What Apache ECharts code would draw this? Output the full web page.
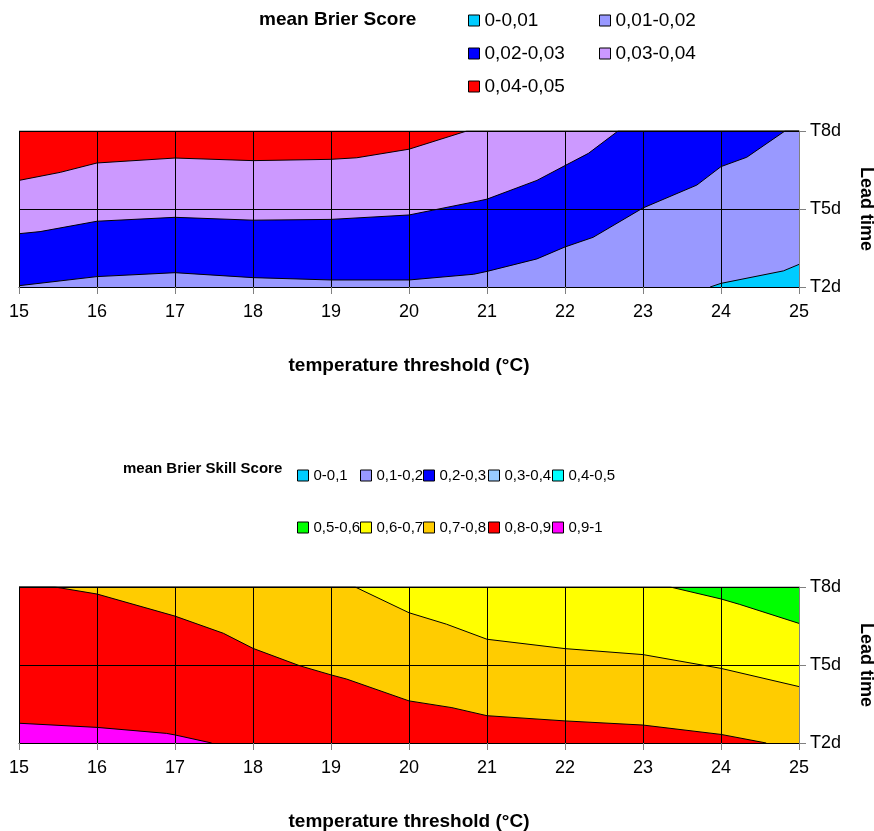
<!DOCTYPE html>
<html>
<head>
<meta charset="utf-8">
<script src="https://cdn.jsdelivr.net/npm/echarts@6/dist/echarts.min.js"></script>
<style>
  html, body { margin: 0; padding: 0; background: #fff; }
  #chart { width: 874px; height: 831px; }
</style>
</head>
<body>
<div id="chart"></div>
<script>

// 坐标轴
//-------
var tempMin = 15;
var tempMax = 25;
var leadDays = [2, 5, 8];
var leadLabels = ['T2d', 'T5d', 'T8d'];

// mean Brier Score
//-----------------
var bsClasses = ['0-0,01', '0,01-0,02', '0,02-0,03', '0,03-0,04', '0,04-0,05'];
var bsColors = ['#00ccff', '#9999ff', '#0000ff', '#cc99ff', '#ff0000'];

// upper edge of each class, [temperature, lead day]
var bsTop = [[15, 8], [25, 8]];
var bs004 = [[15, 6.10], [15.53, 6.41], [16, 6.77], [17, 6.96], [18, 6.86], [19, 6.91],
  [19.33, 6.97], [20, 7.30], [20.74, 8], [25, 8]];
var bs003 = [[15, 4.05], [15.27, 4.13], [16, 4.53], [17, 4.68], [18, 4.57], [19, 4.60],
  [20, 4.77], [20.91, 5.32], [21, 5.38], [21.64, 6.10], [22, 6.67], [22.30, 7.14],
  [22.68, 8], [25, 8]];
var bs002 = [[15, 2.05], [16, 2.40], [17, 2.55], [18, 2.36], [19, 2.27], [20, 2.27],
  [20.83, 2.49], [21, 2.60], [21.64, 3.08], [22, 3.54], [22.36, 3.91], [23, 5.04],
  [23.69, 5.92], [24, 6.63], [24.33, 6.99], [24.82, 8], [25, 8]];
var bs001 = [[23.86, 2], [24, 2.14], [24.8, 2.62], [25, 2.87]];

// mean Brier Skill Score
//-----------------------
var bssClasses = ['0-0,1', '0,1-0,2', '0,2-0,3', '0,3-0,4', '0,4-0,5',
  '0,5-0,6', '0,6-0,7', '0,7-0,8', '0,8-0,9', '0,9-1'];
var bssColors = ['#00ccff', '#9999ff', '#0000ff', '#99ccff', '#00ffff',
  '#00ff00', '#ffff00', '#ffcc00', '#ff0000', '#ff00ff'];

var bssTop = [[15, 8], [25, 8]];
var bss06 = [[15, 8], [23.35, 8], [24, 7.54], [24.24, 7.33], [25, 6.60]];
var bss07 = [[15, 8], [19.31, 8], [20, 7.01], [20.48, 6.57], [21, 5.99], [22, 5.63],
  [23, 5.40], [24, 4.87], [25, 4.17]];
var bss08 = [[15, 8], [15.46, 8], [16, 7.73], [17, 6.88], [17.62, 6.22], [18, 5.64],
  [18.6, 4.97], [19, 4.62], [19.2, 4.46], [20, 3.62], [20.55, 3.36], [21, 3.05],
  [22, 2.85], [23, 2.69], [24, 2.33], [24.58, 2]];
var bss09 = [[15, 2.76], [16, 2.60], [16.89, 2.37], [17, 2.31], [17.47, 2]];

var font = '"Liberation Sans", Arial, sans-serif';

// 填充区域：边界线以下整块上色
function band(name, data, color, idx) {
  return {
    name: name,
    type: 'line',
    xAxisIndex: idx,
    yAxisIndex: idx,
    data: data,
    symbol: 'none',
    silent: true,
    lineStyle: { color: '#000', width: 1 },
    itemStyle: { color: color },
    areaStyle: { color: color, opacity: 1, origin: 'start' }
  };
}

function legendItem(name, color, left, top, size) {
  return {
    data: [{ name: name, itemStyle: { color: color, borderColor: '#000', borderWidth: 1 } }],
    left: left,
    top: top,
    padding: 0,
    icon: 'rect',
    itemWidth: 11,
    itemHeight: 11,
    selectedMode: false,
    textStyle: { fontSize: size, color: '#000', fontFamily: font }
  };
}

function xAxisFor(idx) {
  return {
    gridIndex: idx,
    type: 'value',
    min: tempMin,
    max: tempMax,
    interval: 1,
    z: 5,
    axisLine: { onZero: false, lineStyle: { color: '#000' } },
    axisTick: { length: 7, lineStyle: { color: '#808080' } },
    axisLabel: { fontSize: 18, color: '#000', margin: 16, fontFamily: font },
    splitLine: { show: true, lineStyle: { color: '#000', width: 1 } },
    name: 'temperature threshold (°C)',
    nameLocation: 'middle',
    nameGap: 69,
    nameTextStyle: { fontSize: 19, fontWeight: 'bold', color: '#000', fontFamily: font }
  };
}

function yAxisFor(idx) {
  return {
    gridIndex: idx,
    type: 'value',
    position: 'right',
    min: 2,
    max: 8,
    interval: 3,
    z: 5,
    axisLine: { show: true, lineStyle: { color: '#808080' } },
    axisTick: { show: true, length: 7, lineStyle: { color: '#808080' } },
    axisLabel: {
      fontSize: 18, color: '#000', margin: 11, fontFamily: font,
      formatter: function(v) { return leadLabels[leadDays.indexOf(v)]; }
    },
    splitLine: { show: true, lineStyle: { color: '#000', width: 1 } },
    name: 'Lead time',
    nameLocation: 'middle',
    nameRotate: -90,
    nameGap: 58,
    nameTextStyle: { fontSize: 18, fontWeight: 'bold', color: '#000', fontFamily: font }
  };
}

// 图例
var legends = [];
var topCols = [468, 599];
var topRows = [21, 54, 87];
bsClasses.forEach(function(name, i) {
  legends.push(legendItem(name, bsColors[i], topCols[i % 2], topRows[Math.floor(i / 2)] - 10, 19));
});
var botCols = [297, 360, 423, 488, 552];
var botRows = [476, 528];
bssClasses.forEach(function(name, i) {
  legends.push(legendItem(name, bssColors[i], botCols[i % 5], botRows[Math.floor(i / 5)] - 8, 15));
});

// 系列
var series = [
  band(bsClasses[4], bsTop, bsColors[4], 0),
  band(bsClasses[3], bs004, bsColors[3], 0),
  band(bsClasses[2], bs003, bsColors[2], 0),
  band(bsClasses[1], bs002, bsColors[1], 0),
  band(bsClasses[0], bs001, bsColors[0], 0),

  band(bssClasses[5], bssTop, bssColors[5], 1),
  band(bssClasses[6], bss06, bssColors[6], 1),
  band(bssClasses[7], bss07, bssColors[7], 1),
  band(bssClasses[8], bss08, bssColors[8], 1),
  band(bssClasses[9], bss09, bssColors[9], 1)
];
// classes with no area still need a series for the legend
[0, 1, 2, 3, 4].forEach(function(i) {
  series.push(band(bssClasses[i], [], bssColors[i], 1));
});

var myChart = echarts.init(document.getElementById('chart'));
var option = {
  animation: false,
  backgroundColor: '#fff',
  title: [
    { text: 'mean Brier Score', left: 259, top: 10, padding: 0,
      textStyle: { fontSize: 19, fontWeight: 'bold', color: '#000', fontFamily: font } },
    { text: 'mean Brier Skill Score', left: 123, top: 461, padding: 0,
      textStyle: { fontSize: 15, fontWeight: 'bold', color: '#000', fontFamily: font } }
  ],
  legend: legends,
  grid: [
    { left: 19, top: 131, width: 780, height: 156, outerBoundsMode: 'none' },
    { left: 19, top: 587, width: 780, height: 156, outerBoundsMode: 'none' }
  ],
  xAxis: [xAxisFor(0), xAxisFor(1)],
  yAxis: [yAxisFor(0), yAxisFor(1)],
  series: series
};
myChart.setOption(option);

</script>
</body>
</html>
